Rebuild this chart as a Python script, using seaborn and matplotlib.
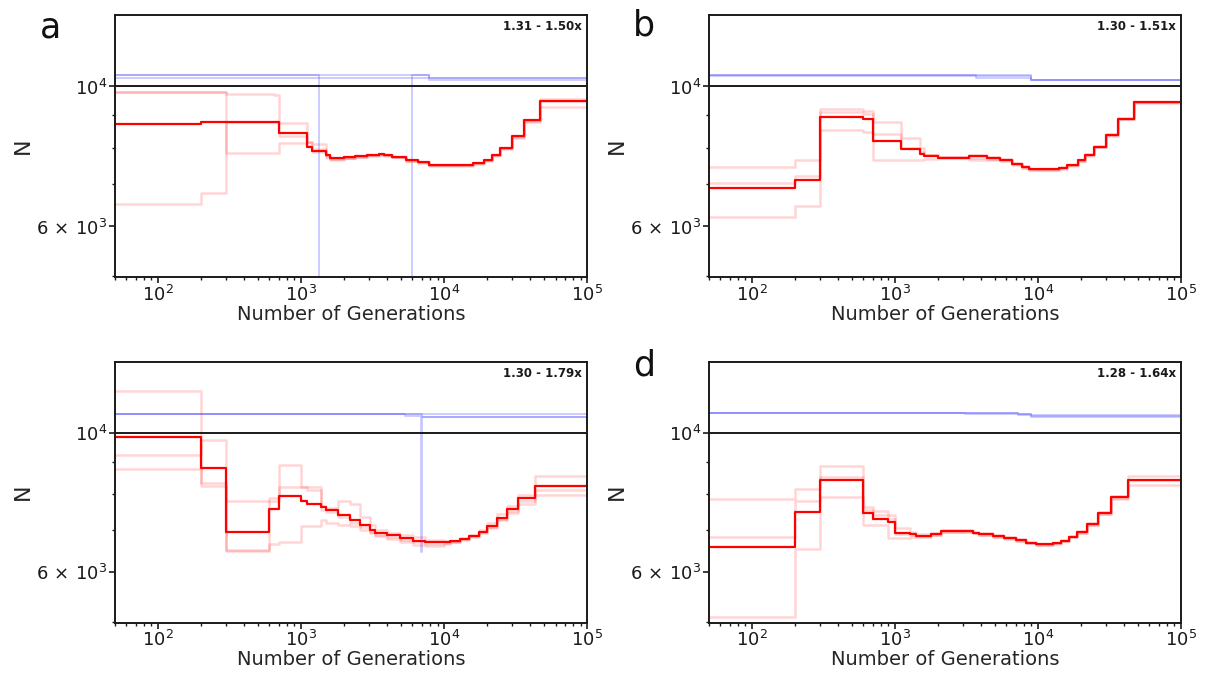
import numpy as np
import pandas as pd
import matplotlib
matplotlib.use("Agg")
import matplotlib.pyplot as plt
import seaborn as sns
from matplotlib.ticker import FixedLocator, FixedFormatter, NullFormatter, LogLocator

# ---------------- data ----------------
X_END = 100000
TRUE_N = 10000

panel_letters = ["a", "b", "", "d"]
ratio_text = ["1.31 - 1.50x", "1.30 - 1.51x", "1.30 - 1.79x", "1.28 - 1.64x"]

# panel a
t_a = [50, 200, 300, 650, 700, 1100, 1200, 1500, 1600, 2000, 2400, 2900, 3500, 3800,
       4300, 5400, 6600, 7800, 16000, 19000, 21500, 24500, 30000, 36000, 47000]
main_a = [8705, 8790, 8790, 8790, 8434, 8025, 7909, 7793, 7708, 7727, 7755, 7793, 7812, 7784,
          7736, 7634, 7597, 7505, 7568, 7654, 7784, 7995, 8333, 8835, 9479]
rep1_a = [9790, 9790, 9722, 9680, 8757, 8161, 8100, 7760, 7650, 7690, 7720, 7770, 7800, 7760,
          7720, 7620, 7570, 7480, 7540, 7630, 7760, 7960, 8300, 8800, 9500]
rep2_a = [9800, 9800, 7850, 7850, 8131, 8161, 7950, 7800, 7680, 7700, 7740, 7790, 7810, 7790,
          7740, 7640, 7600, 7510, 7560, 7660, 7800, 8000, 8340, 8850, 9274]
rep3_a = [6503, 6785, 8790, 8790, 8362, 8050, 7880, 7700, 7690, 7710, 7760, 7800, 7820, 7790,
          7730, 7630, 7590, 7500, 7570, 7650, 7790, 7990, 8330, 8830, 9537]
blue_t_a = [[50, 7800], [50, 7800], [50, 1330, 6000, 7800]]
blue_v_a = [[10420, 10315], [10330, 10221], [10420, 3000, 10420, 10315]]

# panel b
t_b = [50, 200, 300, 600, 700, 1100, 1500, 1600, 2000, 3300, 4400, 5400, 6600, 7800,
       8700, 14000, 16000, 19000, 21500, 24500, 30000, 36000, 47000]
main_b = [6893, 7120, 8931, 8887, 8202, 7947, 7821, 7764, 7708, 7746, 7708, 7654, 7543, 7452,
          7396, 7432, 7505, 7634, 7793, 8033, 8383, 8887, 9433]
rep1_b = [7450, 7634, 9218, 9160, 8800, 8290, 8000, 7800, 7730, 7700, 7680, 7640, 7540, 7440,
          7380, 7420, 7500, 7630, 7790, 8030, 8380, 8880, 9440]
rep2_b = [7029, 7220, 9104, 9050, 7660, 7640, 7660, 7680, 7690, 7660, 7640, 7620, 7520, 7420,
          7360, 7400, 7480, 7610, 7770, 8010, 8360, 8870, 9420]
rep3_b = [6208, 6460, 8517, 8480, 8400, 7990, 7860, 7790, 7740, 7780, 7730, 7680, 7560, 7470,
          7410, 7450, 7520, 7650, 7810, 8050, 8400, 8900, 9450]
blue_t_b = [[50, 3700, 8900], [50, 8900], [50, 8900]]
blue_v_b = [[10410, 10309, 10221], [10410, 10221], [10400, 10240]]

# panel c
t_c = [50, 200, 300, 600, 700, 1000, 1100, 1380, 1500, 1800, 2200, 2600, 3050, 3300,
       4000, 4950, 6100, 7400, 9900, 11000, 13000, 14900, 17500, 20000, 23500, 27500, 33000, 43000]
main_c = [9866, 8781, 6945, 7563, 7925, 7781, 7694, 7613, 7530, 7401, 7258, 7143, 7013, 6929,
          6870, 6803, 6737, 6704, 6704, 6729, 6786, 6861, 6962, 7101, 7321, 7563, 7887, 8243]
rep1_c = [11654, 8320, 6516, 7870, 8880, 8216, 8202, 7650, 7600, 7781, 7700, 7350, 7150, 7000,
          6920, 6880, 6830, 6760, 6720, 6740, 6800, 6890, 7000, 7180, 7420, 7650, 7970, 8551]
rep2_c = [9212, 9758, 7781, 7781, 8202, 8202, 8100, 7530, 7480, 7350, 7200, 7080, 6960, 6880,
          6820, 6760, 6700, 6650, 6680, 6700, 6760, 6840, 6940, 7080, 7290, 7500, 7800, 8122]
rep3_c = [8762, 8243, 6490, 6650, 6718, 7120, 7120, 7260, 7200, 7150, 7100, 7000, 6920, 6850,
          6780, 6700, 6640, 6620, 6650, 6700, 6770, 6850, 6950, 7070, 7260, 7470, 7720, 7970]
blue_t_c = [[50], [50, 5300, 6900, 6950], [50, 6950]]
blue_v_c = [[10722], [10722, 10631, 6474, 10592], [10722, 10592]]

# panel d
t_d = [50, 200, 300, 600, 700, 900, 1000, 1270, 1400, 1780, 2100, 2970, 3490, 3890,
       4820, 5810, 7010, 8240, 9680, 12700, 14500, 16500, 18900, 22200, 26100, 32400, 42300]
main_d = [6587, 7482, 8414, 7445, 7292, 7204, 6943, 6900, 6867, 6907, 6985, 6977, 6943, 6907,
          6859, 6817, 6759, 6693, 6653, 6677, 6734, 6842, 6951, 7170, 7454, 7906, 8414]
rep1_d = [7848, 8142, 8869, 7620, 7500, 7400, 7050, 6950, 6900, 6940, 7010, 7000, 6960, 6920,
          6870, 6830, 6770, 6700, 6660, 6690, 6750, 6860, 6970, 7190, 7480, 7930, 8551]
rep2_d = [6842, 7782, 8507, 7546, 7400, 7300, 6900, 6870, 6840, 6890, 6960, 6960, 6930, 6890,
          6840, 6800, 6740, 6680, 6640, 6670, 6720, 6830, 6940, 7150, 7430, 7880, 8414]
rep3_d = [5100, 6538, 7897, 7143, 7143, 6803, 6803, 6830, 6850, 6880, 6950, 6950, 6920, 6880,
          6830, 6790, 6730, 6670, 6630, 6660, 6720, 6820, 6930, 7140, 7420, 7860, 8272]
blue_t_d = [[50, 3100, 7200, 8900], [50, 3100, 7200, 8900], [50, 7200, 8900]]
blue_v_d = [[10762, 10740, 10700, 10680], [10762, 10720, 10660, 10600], [10762, 10720, 10640]]

panels = [
    (t_a, main_a, [rep1_a, rep2_a, rep3_a], blue_t_a, blue_v_a),
    (t_b, main_b, [rep1_b, rep2_b, rep3_b], blue_t_b, blue_v_b),
    (t_c, main_c, [rep1_c, rep2_c, rep3_c], blue_t_c, blue_v_c),
    (t_d, main_d, [rep1_d, rep2_d, rep3_d], blue_t_d, blue_v_d),
]


def step_frame(ts, vs):
    rows = []
    for k, (t, v) in enumerate(zip(ts, vs)):
        xs = list(t) + [X_END]
        ys = list(v) + [v[-1]]
        for x, y in zip(xs, ys):
            rows.append({"gen": x, "N": y, "line": k})
    return pd.DataFrame(rows)


# ---------------- style ----------------
sns.set_theme(style="ticks")
plt.rcParams["font.family"] = ["DejaVu Sans"]
plt.rcParams["axes.linewidth"] = 1.4
plt.rcParams["axes.edgecolor"] = "#1a1a1a"

fig = plt.figure(figsize=(12.06, 6.73), dpi=100)
W, H = 1206, 673
boxes = [
    (114.7, 15.0, 587.3, 277.0),
    (708.7, 15.0, 1181.0, 277.0),
    (114.7, 361.7, 587.3, 622.7),
    (708.7, 361.7, 1181.0, 622.7),
]
letter_pos = [(51, 37), (644, 35), (51, 378), (644, 376)]

for i, (t, main, reps, bts, bvs) in enumerate(panels):
    l, tp, r, b = boxes[i]
    ax = fig.add_axes([l / W, 1 - b / H, (r - l) / W, (b - tp) / H])
    ax.set_xscale("log")
    ax.set_yscale("log")

    dfb = step_frame(bts, bvs)
    sns.lineplot(data=dfb, x="gen", y="N", units="line", estimator=None, ax=ax,
                 drawstyle="steps-post", color="#5a5aff", alpha=0.33, lw=1.3,
                 legend=False)
    dfr = step_frame([t, t, t], reps)
    sns.lineplot(data=dfr, x="gen", y="N", units="line", estimator=None, ax=ax,
                 drawstyle="steps-post", color="#ff0000", alpha=0.17, lw=1.8,
                 legend=False)
    dfm = step_frame([t], [main])
    sns.lineplot(data=dfm, x="gen", y="N", units="line", estimator=None, ax=ax,
                 drawstyle="steps-post", color="#ff0000", lw=1.6, legend=False)
    ax.axhline(TRUE_N, color="#1a1a1a", lw=1.4, zorder=5)

    ax.set_xlim(50, X_END)
    ax.set_ylim(4990, 12980)

    ax.xaxis.set_major_locator(FixedLocator([1e2, 1e3, 1e4, 1e5]))
    ax.xaxis.set_minor_locator(LogLocator(base=10, subs=np.arange(2, 10), numticks=20))
    ax.xaxis.set_minor_formatter(NullFormatter())
    ax.yaxis.set_major_locator(FixedLocator([6000, 10000]))
    ax.yaxis.set_major_formatter(FixedFormatter([r"$6\,\times\,10^{3}$", r"$10^{4}$"]))
    ax.yaxis.set_minor_locator(FixedLocator([5000, 7000, 8000, 9000]))
    ax.yaxis.set_minor_formatter(NullFormatter())

    ax.tick_params(axis="both", which="major", labelsize=13, length=4, width=1.2,
                   pad=1.5, colors="#1a1a1a")
    ax.tick_params(axis="both", which="minor", length=2.5, width=1.0, colors="#1a1a1a")

    ax.set_xlabel("Number of Generations", fontsize=14, labelpad=0)
    ax.set_ylabel("N", fontsize=16, labelpad=2)

    ax.text(0.989, 0.955, ratio_text[i], transform=ax.transAxes, ha="right",
            va="center", fontsize=8.5, fontweight="bold", color="#1a1a1a")

    if panel_letters[i]:
        lx, ly = letter_pos[i]
        fig.text(lx / W, 1 - ly / H, panel_letters[i], fontsize=25, ha="center",
                 va="baseline", color="#111111")

fig.savefig("out.png", dpi=100)
